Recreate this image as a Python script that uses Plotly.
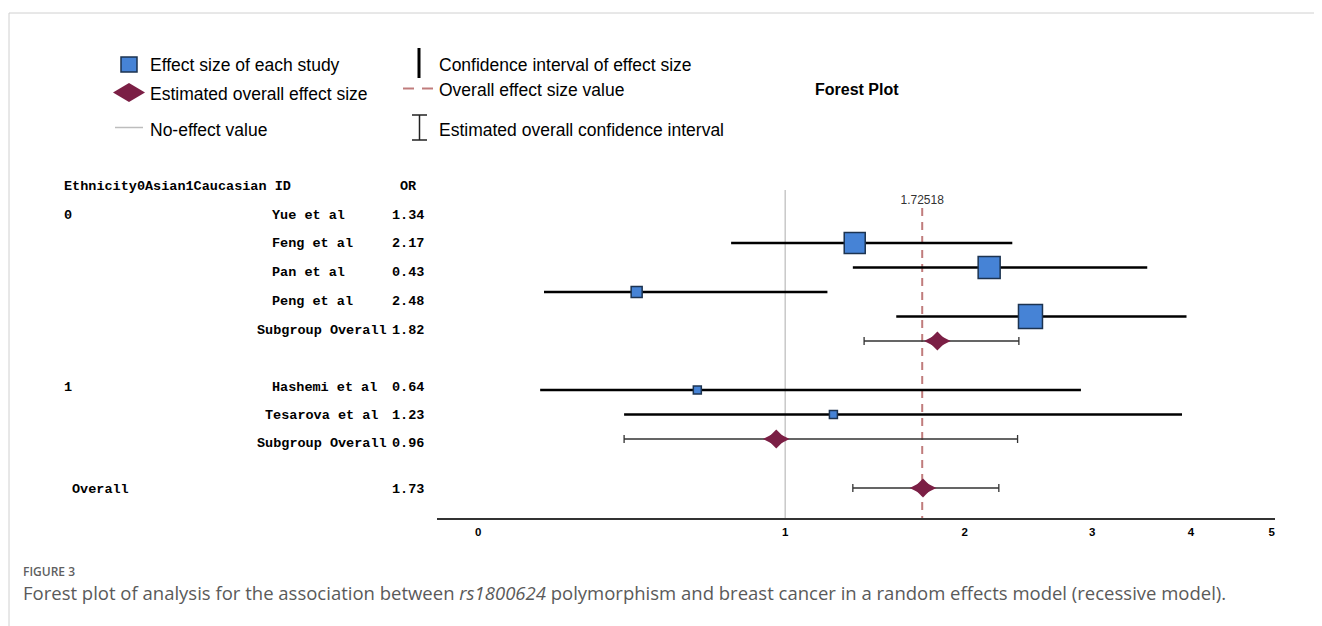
import math
import plotly.graph_objects as go

# ---------------- data ----------------
header_group = "Ethnicity0Asian1Caucasian ID"
header_or = "OR"
group_labels = ["0", "1"]

study_names = ["Yue et al", "Feng et al", "Pan et al", "Peng et al", "Hashemi et al", "Tesarova et al"]
study_or = [1.34, 2.17, 0.43, 2.48, 0.64, 1.23]
study_lo = [0.77, 1.33, 0.16, 1.57, 0.15, 0.39]
study_hi = [2.34, 3.53, 1.20, 3.95, 2.90, 3.90]
study_weight = [21, 22, 11, 24, 8, 8]

summary_names = ["Subgroup Overall", "Subgroup Overall", "Overall"]
summary_or = [1.82, 0.96, 1.73]
summary_lo = [1.39, 0.39, 1.33]
summary_hi = [2.39, 2.38, 2.24]

overall_effect = 1.72518
no_effect = 1.0
tick_values = [0, 1, 2, 3, 4, 5]

legend_items = ["Effect size of each study", "Estimated overall effect size", "No-effect value",
                "Confidence interval of effect size", "Overall effect size value",
                "Estimated overall confidence interval"]
chart_title = "Forest Plot"
fig_label = "FIGURE 3"
caption = ("Forest plot of analysis for the association between <i>rs1800624</i> polymorphism "
           "and breast cancer in a random effects model (recessive model).")

# ---------------- layout helpers ----------------
OFF = 8                      # page body margin
W, H = 1322 - OFF, 626 - OFF
SHIFT = 1.0                  # axis shows log(OR + 1)


def px(x):
    return (x - OFF) / W


def py(y):
    return 1 - (y - OFF) / H


PLOT_L, PLOT_R, PLOT_T, PLOT_B = 437, 1275, 180, 518
ROW0, STEP = 243, 24.5


def slot(ypix):
    return (ypix - ROW0) / STEP


study_slots = [0, 1, 2, 3, 6, 7]
summary_slots = [4, 8, 10]

BLUE = "#4683d6"
BLUE_EDGE = "#1c3350"
MAROON = "#7b1f45"
DASH_RED = "#c07c7c"
SANS = "Liberation Sans, Arial, sans-serif"
MONO = "Liberation Mono, Courier New, monospace"

fig = go.Figure()

# reference lines
fig.add_trace(go.Scatter(x=[no_effect + SHIFT] * 2, y=[slot(190), slot(PLOT_B)], mode="lines",
                         line=dict(color="#c8c8c8", width=1.5), hoverinfo="skip", showlegend=False))
fig.add_trace(go.Scatter(x=[overall_effect + SHIFT] * 2, y=[slot(208), slot(PLOT_B)], mode="lines",
                         line=dict(color=DASH_RED, width=2, dash="8px,6px"), hoverinfo="skip",
                         showlegend=False))

# study estimates with CI
fig.add_trace(go.Scatter(
    x=[v + SHIFT for v in study_or], y=study_slots, mode="markers",
    marker=dict(symbol="square", size=study_weight, color=BLUE, opacity=1,
                line=dict(color=BLUE_EDGE, width=1.5)),
    error_x=dict(type="data", symmetric=False,
                 array=[h - v for h, v in zip(study_hi, study_or)],
                 arrayminus=[v - l for v, l in zip(study_or, study_lo)],
                 thickness=2.6, width=0, color="black"),
    text=study_names, showlegend=False))

# summary estimates
fig.add_trace(go.Scatter(
    x=[v + SHIFT for v in summary_or], y=summary_slots, mode="markers",
    marker=dict(symbol="diamond-wide", size=19, color=MAROON, opacity=1, line=dict(width=0)),
    error_x=dict(type="data", symmetric=False,
                 array=[h - v for h, v in zip(summary_hi, summary_or)],
                 arrayminus=[v - l for v, l in zip(summary_or, summary_lo)],
                 thickness=1.3, width=4, color="#333333"),
    text=summary_names, showlegend=False))
fig.add_trace(go.Scatter(
    x=[v + SHIFT for v in summary_or], y=summary_slots, mode="markers",
    marker=dict(symbol="diamond", size=14.5, color=MAROON, opacity=1, line=dict(width=0)),
    hoverinfo="skip", showlegend=False))

# overall value label
fig.add_trace(go.Scatter(x=[overall_effect + SHIFT], y=[slot(201)], mode="text",
                         text=[f"{overall_effect}"], textposition="middle center",
                         textfont=dict(family=SANS, size=12, color="#333333"),
                         cliponaxis=False, hoverinfo="skip", showlegend=False))

annotations = []


def ann(x, y, text, size, family, color="black", xanchor="left", weight="normal", pad=1):
    annotations.append(dict(x=px(x), y=py(y), xref="paper", yref="paper", text=text,
                            showarrow=False, xanchor=xanchor, yanchor="middle", borderpad=pad,
                            font=dict(size=size, family=family, color=color, weight=weight)))


# table text
MS = 13.5
ann(62, 186.5, header_group, MS, MONO, weight="bold")
ann(398, 186.5, header_or, MS, MONO, weight="bold")
text_rows_y = [215, 243.5, 272, 301, 330, 387, 415, 443]
name_x = [270, 270, 270, 270, 255, 270, 263, 255]
row_names = study_names[:4] + [summary_names[0]] + study_names[4:] + [summary_names[1]]
row_vals = study_or[:4] + [summary_or[0]] + study_or[4:] + [summary_or[1]]
for yy, xx, nm, vv in zip(text_rows_y, name_x, row_names, row_vals):
    ann(xx, yy, nm, MS, MONO, weight="bold")
    ann(390, yy, f"{vv:.2f}", MS, MONO, weight="bold")
ann(62, 215, group_labels[0], MS, MONO, weight="bold")
ann(62, 387, group_labels[1], MS, MONO, weight="bold")
ann(70, 489, summary_names[2], MS, MONO, weight="bold")
ann(390, 489, f"{summary_or[2]:.2f}", MS, MONO, weight="bold")

# legend text
LS = 17.5
ann(148, 65, legend_items[0], LS, SANS)
ann(148, 94, legend_items[1], LS, SANS)
ann(148, 130, legend_items[2], LS, SANS)
ann(437, 65, legend_items[3], LS, SANS)
ann(437, 90, legend_items[4], LS, SANS)
ann(437, 130, legend_items[5], LS, SANS)
ann(857, 90, f"<b>{chart_title}</b>", 16, SANS, xanchor="center")

# caption
ann(22, 571.5, fig_label, 12, "Open Sans", color="#5f5f5f", weight=600, pad=0)
ann(22, 592, caption, 18.5, "Open Sans", color="#5a5a5a", pad=0)

shapes = []


def line(x0, y0, x1, y1, color, width, dash="solid"):
    shapes.append(dict(type="line", xref="paper", yref="paper", x0=px(x0), y0=py(y0),
                       x1=px(x1), y1=py(y1), line=dict(color=color, width=width, dash=dash)))


# frame
line(9, 13, 1322, 13, "#d0d0d0", 1)
line(9, 13, 9, 626, "#d0d0d0", 1)

# legend glyphs
shapes.append(dict(type="rect", xref="paper", yref="paper", x0=px(121), x1=px(137), y0=py(72), y1=py(57),
                   fillcolor=BLUE, line=dict(color=BLUE_EDGE, width=1.5)))
cx, cy = 129, 92.5
shapes.append(dict(type="path", xref="paper", yref="paper",
                   path=f"M {px(cx-16)},{py(cy)} L {px(cx)},{py(cy-9.5)} L {px(cx+16)},{py(cy)} L {px(cx)},{py(cy+9.5)} Z",
                   fillcolor=MAROON, line=dict(width=0)))
line(115, 127.5, 143, 127.5, "#bdbdbd", 1.5)
line(419, 48, 419, 78, "black", 3)
line(403, 88.5, 414, 88.5, DASH_RED, 2)
line(422, 88.5, 433, 88.5, DASH_RED, 2)
line(419.5, 115, 419.5, 140, "#222222", 1.5)
line(412, 115, 427, 115, "#222222", 1.5)
line(412, 140, 427, 140, "#222222", 1.5)

fig.update_layout(
    width=W, height=H,
    margin=dict(l=0, r=0, t=0, b=0, pad=0),
    paper_bgcolor="white", plot_bgcolor="white",
    showlegend=False,
    xaxis=dict(type="log", domain=[px(PLOT_L), px(PLOT_R)],
               range=[math.log10(0.911), math.log10(6.045)],
               tickvals=[t + SHIFT for t in tick_values], ticktext=[str(t) for t in tick_values],
               showgrid=False, zeroline=False, showline=True, linecolor="#333333", linewidth=2,
               ticks="", ticklabelstandoff=2,
               tickfont=dict(family=SANS, size=11.5, color="black", weight="bold")),
    yaxis=dict(domain=[py(PLOT_B), py(PLOT_T)], range=[slot(PLOT_B), slot(PLOT_T)],
               visible=False, showgrid=False, zeroline=False),
    annotations=annotations,
    shapes=shapes,
)

fig.write_html("out.html")
